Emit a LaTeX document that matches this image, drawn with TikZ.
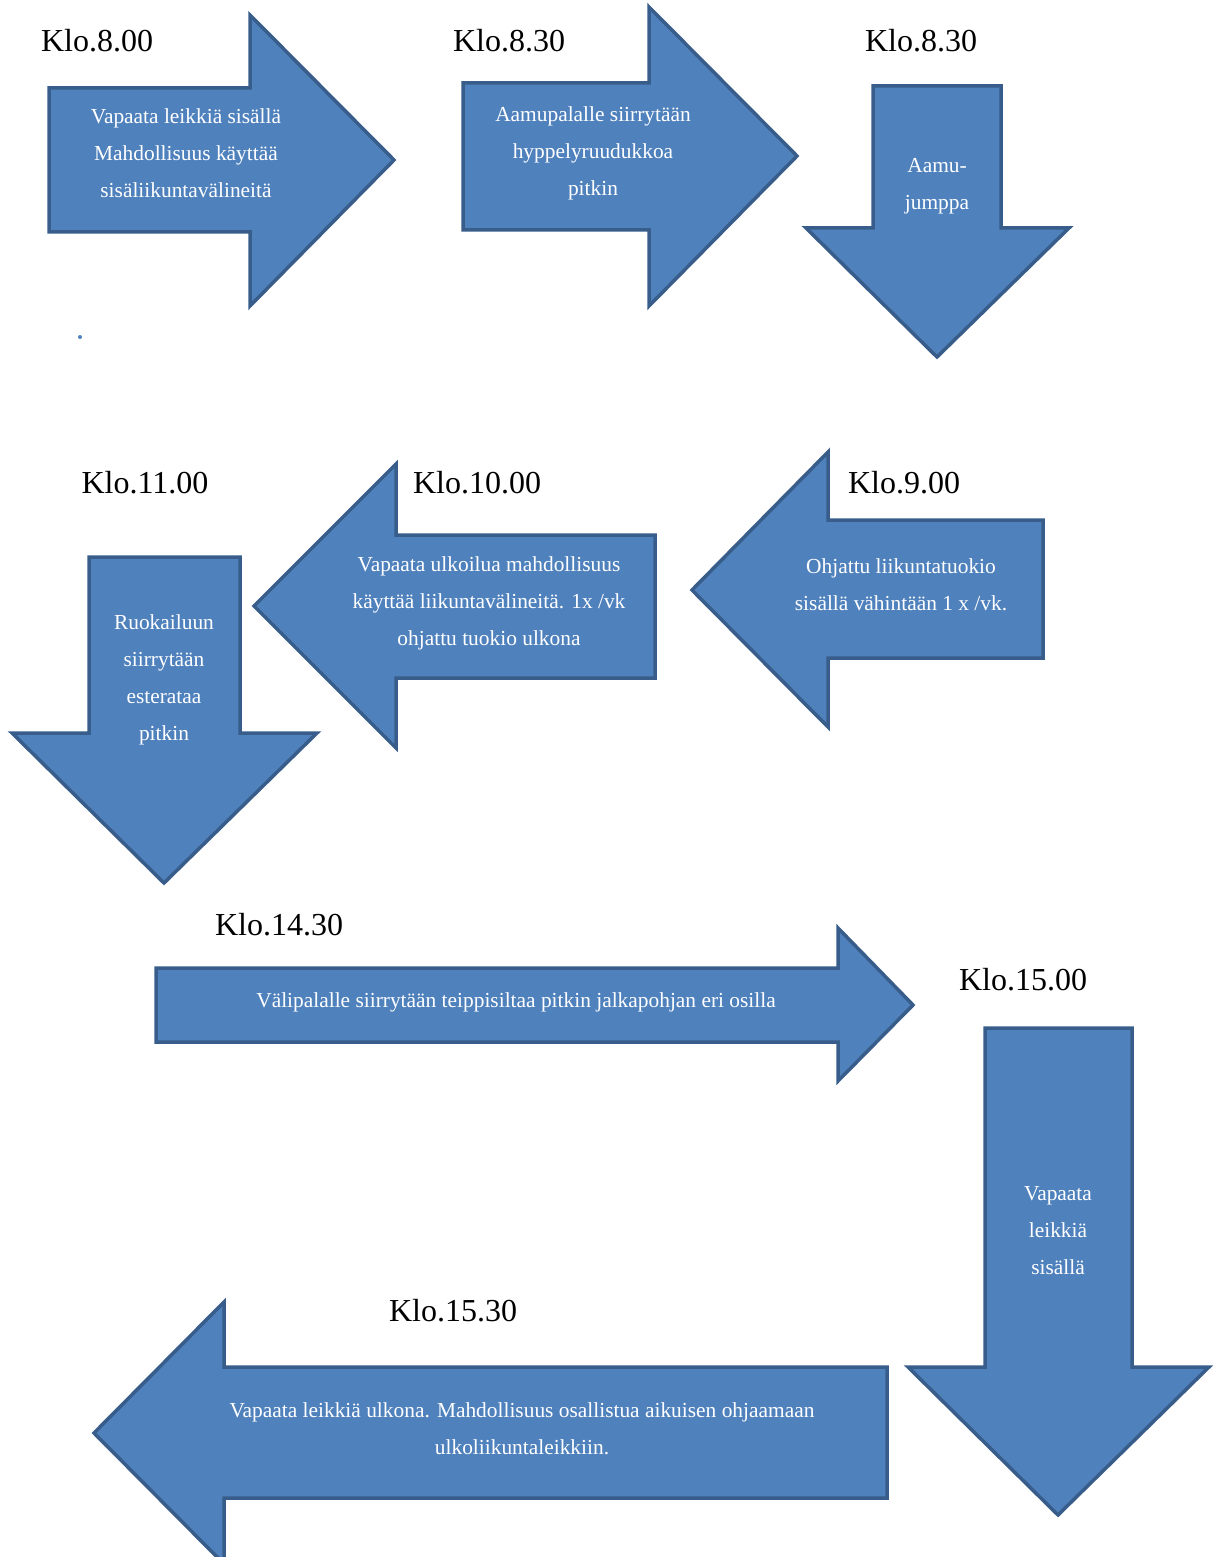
\documentclass[tikz,border=0pt]{standalone}
\usepackage{fontspec}
\setmainfont{Liberation Serif}
\definecolor{arrowblue}{RGB}{79, 129, 189}
\definecolor{arrowedge}{RGB}{56, 93, 138}
\usetikzlibrary{positioning}
\tikzset{
  blockarrow/.style={draw=arrowedge, fill=arrowblue, line width=1.75pt, line join=miter},
  klo/.style={font=\fontsize{16}{19}\selectfont, inner sep=0pt},
  arrowtext/.style={text=white, align=center, inner sep=0pt, font=\fontsize{10.7}{18.5}\selectfont}
}

\begin{document}
\begin{tikzpicture}[x=0.5pt, y=-0.5pt]
  \useasboundingbox (0,0) rectangle (1215,1557);
  \clip (0,0) rectangle (1215,1557);

  % first row
  \draw[blockarrow] (49,88) -- (250,88) -- (250,15) -- (394,160) -- (250,306) -- (250,232) -- (49,232) -- cycle;
  \draw[blockarrow] (463,83) -- (649,83) -- (649,7) -- (797,156) -- (649,306) -- (649,230) -- (463,230) -- cycle;
  \draw[blockarrow] (873,86) -- (1001,86) -- (1001,228) -- (1069,228) -- (937,357) -- (806,228) -- (873,228) -- cycle;

  \node[klo] (klo800) at (97,41) {Klo.8.00};
  \node[klo] (klo830a) at (509,41) {Klo.8.30};
  \node[klo] (klo830b) at (921,41) {Klo.8.30};

  \node[arrowtext] (leikki) at (186,153) {Vapaata leikkiä sisällä\\Mahdollisuus käyttää\\sisäliikuntavälineitä};
  \node[arrowtext] (aamupala) at (593,153) {Aamupalalle siirrytään\\hyppelyruudukkoa\\pitkin};
  \node[arrowtext] (jumppa) at (937,186) {Aamu-\\jumppa};

  \fill[arrowblue] (80,337) circle (2);

  % second row
  \draw[blockarrow] (1043,520) -- (828,520) -- (828,452) -- (692,590) -- (828,727) -- (828,658) -- (1043,658) -- cycle;
  \draw[blockarrow] (655,535) -- (396,535) -- (396,464) -- (254,606) -- (396,748) -- (396,678) -- (655,678) -- cycle;
  \draw[blockarrow] (89,557) -- (240,557) -- (240,733) -- (317,733) -- (164,883) -- (12,733) -- (89,733) -- cycle;

  \node[klo] (klo1100) at (145,483) {Klo.11.00};
  \node[klo] (klo1000) at (477,483) {Klo.10.00};
  \node[klo] (klo900) at (904,483) {Klo.9.00};

  \node[arrowtext] (ohjattu) at (901,585) {Ohjattu liikuntatuokio\\sisällä vähintään 1 x /vk.};
  \node[arrowtext] (ulkoilu) at (489,603) {Vapaata ulkoilua mahdollisuus\\käyttää liikuntavälineitä. 1x /vk\\ohjattu tuokio ulkona};
  \node[arrowtext] (ruokailu) at (164,680) {Ruokailuun\\siirrytään\\esterataa\\pitkin};

  % afternoon
  \draw[blockarrow] (156,968) -- (838,968) -- (838,928) -- (913,1005) -- (838,1081) -- (838,1042) -- (156,1042) -- cycle;
  \draw[blockarrow] (985,1028) -- (1132,1028) -- (1132,1367) -- (1209,1367) -- (1058,1515) -- (908,1367) -- (985,1367) -- cycle;
  \draw[blockarrow] (887,1367) -- (224,1367) -- (224,1302) -- (94,1433) -- (224,1564) -- (224,1498) -- (887,1498) -- cycle;

  \node[klo] (klo1430) at (279,925) {Klo.14.30};
  \node[klo] (klo1500) at (1023,980) {Klo.15.00};
  \node[klo] (klo1530) at (453,1311) {Klo.15.30};

  \node[arrowtext] (valipala) at (516,1002) {Välipalalle siirrytään teippisiltaa pitkin jalkapohjan eri osilla};
  \node[arrowtext] (leikki2) at (1058,1231) {Vapaata\\leikkiä\\sisällä};
  \node[arrowtext] (ulkona) at (522,1429) {Vapaata leikkiä ulkona. Mahdollisuus osallistua aikuisen ohjaamaan\\ulkoliikuntaleikkiin.};
\end{tikzpicture}
\end{document}
